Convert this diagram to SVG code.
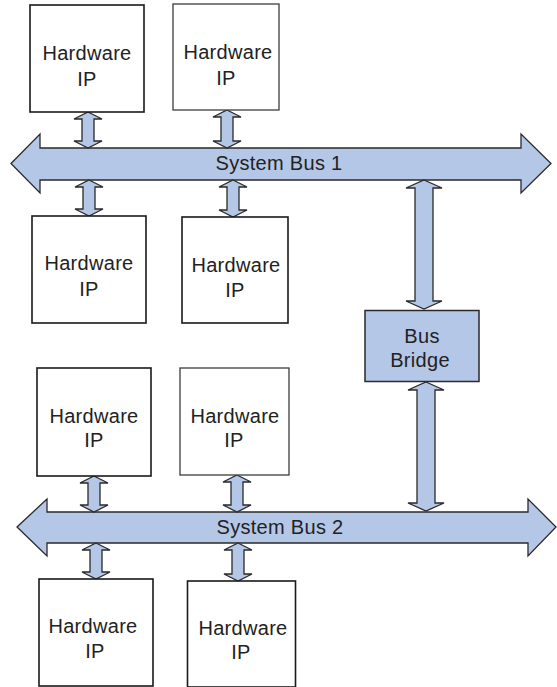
<svg xmlns="http://www.w3.org/2000/svg" width="557" height="687" viewBox="0 0 557 687">
  <style>
    .ip { fill: #ffffff; stroke: #1a1a1a; stroke-width: 1.6; }
    .ip.light { stroke: #3c3c3c; stroke-width: 1.3; }
    .bus { fill: #b4c7e7; stroke: #2a2a2a; stroke-width: 1.3; stroke-linejoin: miter; }
    .bridge { fill: #b4c7e7; stroke: #2a2a2a; stroke-width: 1.5; }
    text { font-family: "Liberation Sans", Arial, sans-serif; font-size: 20px; fill: #222222; text-anchor: middle; letter-spacing: 0.3px; }
  </style>
  <rect width="557" height="687" fill="#ffffff"/>

  <!-- system buses and links -->
  <g id="connectors">
    <!-- System Bus 1 -->
    <path class="bus" d="M11,163.5 L40,134 L40,148 L521,148 L521,134 L551,163.5 L521,193 L521,180 L40,180 L40,193 Z"/>
    <!-- System Bus 2 -->
    <path class="bus" d="M17,527 L47,499 L47,512 L528,512 L528,499 L556,527 L528,556 L528,543 L47,543 L47,556 Z"/>
    <!-- IP links to bus 1 -->
    <path class="bus" d="M88,112 L102,119 L94,119 L94,141 L102,141 L88,148 L74,141 L82,141 L82,119 L74,119 Z"/>
    <path class="bus" d="M227,110 L241,117 L233,117 L233,141 L241,141 L227,148 L213,141 L221,141 L221,117 L213,117 Z"/>
    <path class="bus" d="M89,180 L103,187 L95,187 L95,209 L103,209 L89,216 L75,209 L83,209 L83,187 L75,187 Z"/>
    <path class="bus" d="M233,180 L247,187 L239,187 L239,210 L247,210 L233,217 L219,210 L227,210 L227,187 L219,187 Z"/>
    <!-- bridge links -->
    <path class="bus" d="M424,180 L442,188 L433,188 L433,301 L442,301 L424,309 L406,301 L415,301 L415,188 L406,188 Z"/>
    <path class="bus" d="M426,382 L444,390 L435,390 L435,503 L444,503 L426,511 L408,503 L417,503 L417,390 L408,390 Z"/>
    <!-- IP links to bus 2 -->
    <path class="bus" d="M94,476 L108,483 L100,483 L100,505 L108,505 L94,512 L80,505 L88,505 L88,483 L80,483 Z"/>
    <path class="bus" d="M237,475 L251,482 L243,482 L243,505 L251,505 L237,512 L223,505 L231,505 L231,482 L223,482 Z"/>
    <path class="bus" d="M96,543 L110,550 L102,550 L102,572 L110,572 L96,579 L82,572 L90,572 L90,550 L82,550 Z"/>
    <path class="bus" d="M238,543 L252,550 L244,550 L244,574 L252,574 L238,581 L224,574 L232,574 L232,550 L224,550 Z"/>
    <text x="279" y="169.5">System Bus 1</text>
    <text x="280" y="533.5">System Bus 2</text>
  </g>

  <!-- hardware IP blocks on bus 1 -->
  <g id="ip1">
    <rect class="ip" x="30" y="5" width="114" height="107"/>
    <text x="87" y="60">Hardware</text>
    <text x="87" y="86">IP</text>
  </g>
  <g id="ip2">
    <rect class="ip light" x="173" y="4" width="106" height="106"/>
    <text x="228" y="59">Hardware</text>
    <text x="226" y="85">IP</text>
  </g>
  <g id="ip3">
    <rect class="ip" x="32" y="216" width="114" height="107"/>
    <text x="89" y="270">Hardware</text>
    <text x="89" y="296">IP</text>
  </g>
  <g id="ip4">
    <rect class="ip" x="182" y="217" width="106" height="106"/>
    <text x="236" y="271.5">Hardware</text>
    <text x="235" y="296.5">IP</text>
  </g>

  <!-- bus bridge -->
  <g id="bus-bridge">
    <rect class="bridge" x="365" y="310.5" width="114" height="71"/>
    <text x="422" y="343">Bus</text>
    <text x="420" y="367">Bridge</text>
  </g>

  <!-- hardware IP blocks on bus 2 -->
  <g id="ip5">
    <rect class="ip" x="37" y="368" width="114" height="108"/>
    <text x="94" y="423">Hardware</text>
    <text x="94" y="447">IP</text>
  </g>
  <g id="ip6">
    <rect class="ip light" x="180" y="368" width="109" height="107"/>
    <text x="235" y="423">Hardware</text>
    <text x="234" y="447">IP</text>
  </g>
  <g id="ip7">
    <rect class="ip" x="39" y="579" width="114" height="107"/>
    <text x="93" y="633">Hardware</text>
    <text x="95" y="658">IP</text>
  </g>
  <g id="ip8">
    <rect class="ip" x="187.5" y="581" width="108" height="106"/>
    <text x="243" y="635">Hardware</text>
    <text x="241" y="659">IP</text>
  </g>
</svg>
